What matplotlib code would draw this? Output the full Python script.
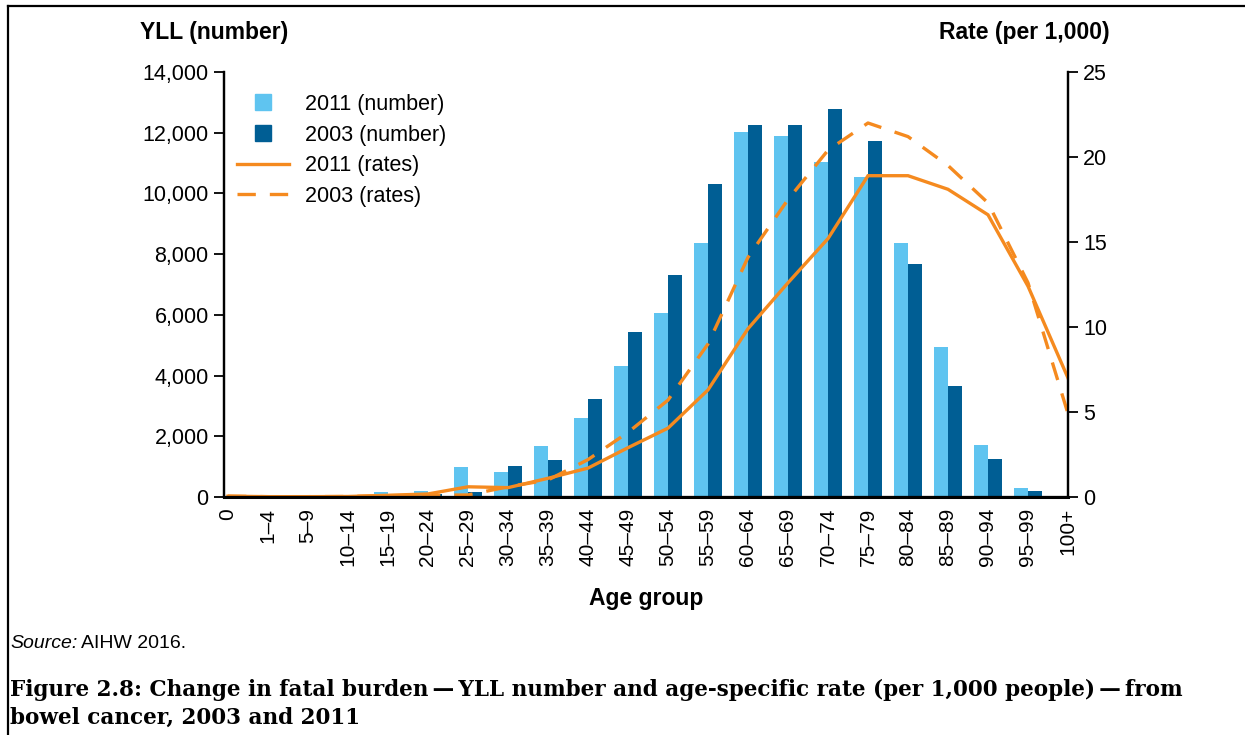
import numpy as np
import matplotlib

matplotlib.use("Agg")
import matplotlib.pyplot as plt
from matplotlib.lines import Line2D
from matplotlib.ticker import FuncFormatter

plt.rcParams["font.family"] = ["Liberation Sans", "DejaVu Sans"]

# Age groups on the category axis
age_groups = [
    "0", "1–4", "5–9", "10–14", "15–19", "20–24", "25–29", "30–34", "35–39",
    "40–44", "45–49", "50–54", "55–59", "60–64", "65–69", "70–74", "75–79",
    "80–84", "85–89", "90–94", "95–99", "100+",
]

# YLL (number)
yll_2011 = [5, 5, 5, 10, 160, 190, 980, 830, 1680, 2600, 4310, 6060, 8370,
            12030, 11890, 11030, 10540, 8370, 4940, 1710, 310, 0]
yll_2003 = [5, 5, 5, 10, 60, 90, 165, 1020, 1220, 3230, 5430, 7310, 10310,
            12250, 12250, 12780, 11730, 7680, 3660, 1250, 200, 0]

# Age-specific rate (per 1,000)
rate_2011 = [0.05, 0.02, 0.02, 0.03, 0.1, 0.18, 0.6, 0.55, 1.1, 1.7, 2.9,
             4.05, 6.3, 9.9, 12.6, 15.2, 18.9, 18.9, 18.1, 16.6, 12.4, 7.0]
rate_2003 = [0.05, 0.02, 0.02, 0.03, 0.08, 0.1, 0.12, 0.6, 1.0, 2.2, 3.8,
             5.7, 9.0, 14.1, 17.5, 20.4, 22.0, 21.2, 19.5, 17.3, 12.6, 4.9]

LIGHT = "#5fc4f0"
DARK = "#005e94"
ORANGE = "#f58a1f"

fig = plt.figure(figsize=(12.45, 7.35), dpi=100)
ax = fig.add_axes([224 / 1245, 1 - 497 / 735, (1068 - 224) / 1245, (497 - 72) / 735])
ax2 = ax.twinx()

x = np.arange(len(age_groups))
w = 0.36
ax.bar(x - w / 2, yll_2011, width=w, color=LIGHT, zorder=2)
ax.bar(x + w / 2, yll_2003, width=w, color=DARK, zorder=2)

ax2.plot(x, rate_2011, color=ORANGE, lw=2.4, solid_joinstyle="miter")
ax2.plot(x, rate_2003, color=ORANGE, lw=2.4, dashes=(5.5, 4.2))

ax.set_xlim(-0.1, 21)
ax.set_ylim(0, 14000)
ax2.set_ylim(0, 25)
ax.set_yticks(np.arange(0, 14001, 2000))
ax2.set_yticks(np.arange(0, 26, 5))
ax.yaxis.set_major_formatter(FuncFormatter(lambda v, p: f"{int(v):,}"))

ax.set_xticks(x)
ax.set_xticklabels(age_groups, rotation=90, fontsize=15)
ax.tick_params(axis="x", length=0, pad=8)
ax.tick_params(axis="y", labelsize=15.5, length=7, width=1.3, direction="out", pad=4)
ax2.tick_params(axis="y", labelsize=15.5, length=7, width=1.3, direction="out", pad=4)

for a in (ax, ax2):
    a.spines["top"].set_visible(False)
    for s in ("left", "right", "bottom"):
        a.spines[s].set_linewidth(1.6)
ax.spines["bottom"].set_linewidth(2.2)

handles = [
    Line2D([], [], ls="none", marker="s", ms=12, color=LIGHT),
    Line2D([], [], ls="none", marker="s", ms=12, color=DARK),
    Line2D([], [], color=ORANGE, lw=2.4),
    Line2D([], [], color=ORANGE, lw=2.4, dashes=(5.5, 4.2)),
]
labels = ["2011 (number)", "2003 (number)", "2011 (rates)", "2003 (rates)"]
ax2.legend(handles, labels, loc="upper left", bbox_to_anchor=(-0.007, 0.994),
           frameon=False, fontsize=15.5, handlelength=2.4, handletextpad=0.75,
           labelspacing=0.45)

fig.text(140 / 1245, 1 - 32 / 735, "YLL (number)", fontsize=16.5, weight="bold", va="center")
fig.text(1110 / 1245, 1 - 32 / 735, "Rate (per 1,000)", fontsize=16.5, weight="bold",
         va="center", ha="right")
fig.text(646 / 1245, 1 - 599 / 735, "Age group", fontsize=16.5, weight="bold",
         va="center", ha="center")

fig.text(10 / 1245, 1 - 643 / 735, "Source:", fontsize=14, style="italic", va="center")
fig.text(81 / 1245, 1 - 643 / 735, "AIHW 2016.", fontsize=14, va="center")

cap = dict(fontsize=15.5, weight="bold", family=["DejaVu Serif"], va="center")
fig.text(10 / 1245, 1 - 690 / 735,
         "Figure 2.8: Change in fatal burden\u2009\u2014\u2009YLL number and age-specific rate "
         "(per 1,000 people)\u2009\u2014\u2009from", **cap)
fig.text(10 / 1245, 1 - 718 / 735, "bowel cancer, 2003 and 2011", **cap)

# page frame on left and top
fig.add_artist(Line2D([7.5 / 1245, 7.5 / 1245], [0, 1 - 5.5 / 735], color="black", lw=1.6))
fig.add_artist(Line2D([7.5 / 1245, 1], [1 - 5.5 / 735, 1 - 5.5 / 735], color="black", lw=1.6))

fig.savefig("out.png", dpi=100)
